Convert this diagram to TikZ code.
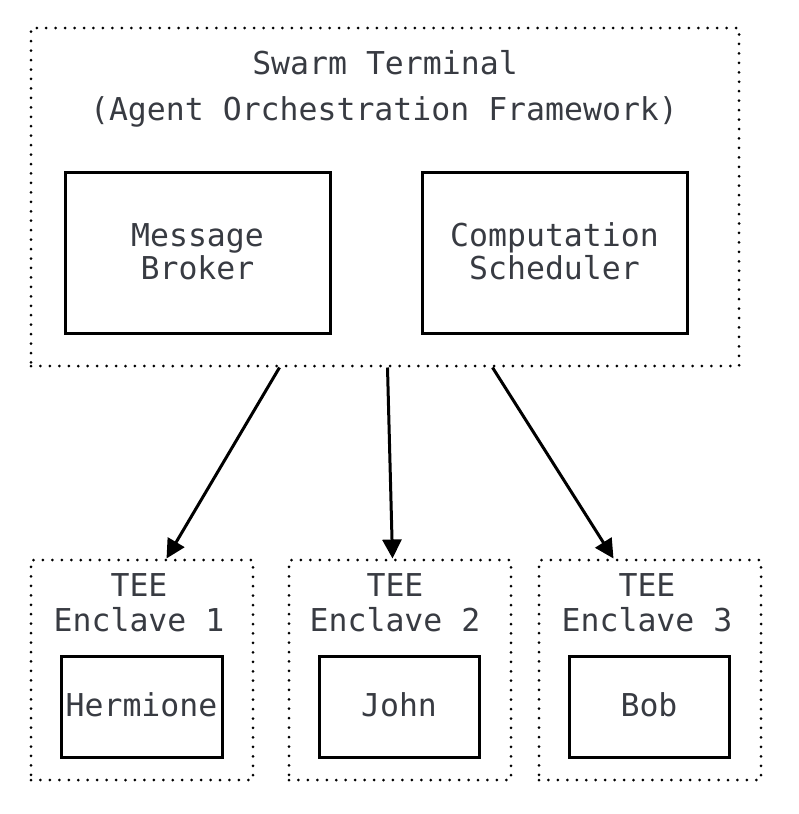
\documentclass[tikz,border=0pt]{standalone}
\usepackage{fontspec}
\newfontfamily\dmono{DejaVu Sans Mono}
\usetikzlibrary{arrows.meta}
\definecolor{txt}{HTML}{383B42}
\tikzset{
  lbl/.style={text=txt, font=\dmono\fontsize{31.5}{34}\selectfont, align=center, inner sep=0pt},
  dotbox/.style={draw=black, line width=3pt, line cap=round, dash pattern=on 0pt off 9.45pt, inner sep=0pt},
  solidbox/.style={draw=black, line width=3pt, inner sep=0pt},
  arr/.style={line width=3pt, -{Triangle[length=19pt,width=19pt]}}
}
\begin{document}
\begin{tikzpicture}[x=1pt,y=-1pt]
\useasboundingbox (0,0) rectangle (798,814);
% outer
\node[dotbox, minimum width=708pt, minimum height=338pt] (outer) at (385,197) {};
\node[lbl] (t1) at (385,63) {Swarm Terminal};
\node[lbl] (t2) at (384,112) {(Agent Orchestration Framework)};
\node[solidbox, minimum width=265pt, minimum height=161pt] (mb) at (197.5,252.5) {};
\node[lbl, font=\dmono\fontsize{31.5}{33}\selectfont] (mbt) at ([yshift=1pt]mb.center) {Message\\Broker};
\node[solidbox, minimum width=265pt, minimum height=161pt] (cs) at (554.5,252.5) {};
\node[lbl, font=\dmono\fontsize{31.5}{33}\selectfont] (cst) at ([yshift=1pt]cs.center) {Computation\\Scheduler};
% enclaves
\node[dotbox, minimum width=222pt, minimum height=220pt] (e1) at (142,670) {};
\node[dotbox, minimum width=222pt, minimum height=220pt] (e2) at (400,670) {};
\node[dotbox, minimum width=222pt, minimum height=220pt] (e3) at (650,670) {};
\node[lbl, font=\dmono\fontsize{31.5}{35}\selectfont] (e1t) at (139,603) {TEE\\Enclave 1};
\node[lbl, font=\dmono\fontsize{31.5}{35}\selectfont] (e2t) at (395,603) {TEE\\Enclave 2};
\node[lbl, font=\dmono\fontsize{31.5}{35}\selectfont] (e3t) at (647,603) {TEE\\Enclave 3};
\node[solidbox, minimum width=161pt, minimum height=101pt] (h) at (141.5,706.5) {};
\node[lbl] (ht) at ([yshift=2pt]h.center) {Hermione};
\node[solidbox, minimum width=160pt, minimum height=101pt] (j) at (399,706.5) {};
\node[lbl] (jt) at ([yshift=2pt]j.center) {John};
\node[solidbox, minimum width=160pt, minimum height=101pt] (b) at (649,706.5) {};
\node[lbl] (bt) at ([yshift=2pt]b.center) {Bob};
% arrows
\draw[arr] ([xshift=250pt]outer.south west) -- ([xshift=137pt]e1.north west);
\draw[arr] ([xshift=358pt]outer.south west) -- ([xshift=105pt]e2.north west);
\draw[arr] ([xshift=463pt]outer.south west) -- ([xshift=76pt]e3.north west);
\end{tikzpicture}
\end{document}
